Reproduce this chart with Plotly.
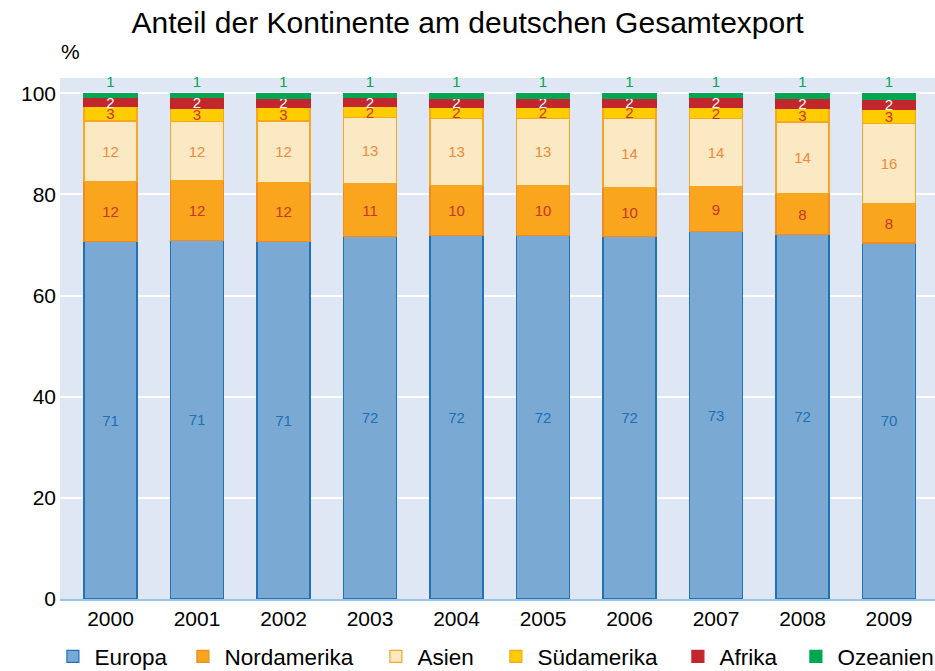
import plotly.graph_objects as go

years = ["2000", "2001", "2002", "2003", "2004", "2005", "2006", "2007", "2008", "2009"]
europa      = [70.7, 70.8, 70.7, 71.6, 71.8, 71.9, 71.6, 72.6, 72.0, 70.4]
nordamerika = [11.8, 11.9, 11.7, 10.6, 10.0,  9.9,  9.7,  8.9,  8.2,  7.8]
asien       = [12.0, 11.7, 12.1, 13.0, 13.2, 13.2, 13.7, 13.5, 14.1, 15.8]
suedamerika = [ 2.8,  2.6,  2.7,  2.1,  2.2,  2.2,  2.2,  2.1,  2.7,  2.8]
afrika      = [ 1.9,  2.2,  1.8,  1.8,  1.8,  1.8,  1.8,  2.1,  2.0,  2.0]
ozeanien    = [ 0.8,  0.8,  1.0,  0.9,  1.0,  1.0,  1.0,  0.8,  1.0,  1.2]

series = [
    ("Europa", europa, "#7aaad4", "#1f72b8", "#1f6fb5"),
    ("Nordamerika", nordamerika, "#f9a51e", "#f08a24", "#c8352b"),
    ("Asien", asien, "#fbe9c3", "#f5a623", "#f0883a"),
    ("Südamerika", suedamerika, "#ffcc00", "#f5a623", "#c8352b"),
    ("Afrika", afrika, "#c1272d", "#c1272d", "#ffffff"),
    ("Ozeanien", ozeanien, "#00a651", "#00a651", "#00a651"),
]

FONT = "Liberation Sans, Arial, sans-serif"
PLOT_L, PLOT_R = 60, 935
legend_px = [51.4, 181.4, 374.4, 494.4, 676.4, 794.4]
legend_x = [(p - PLOT_L) / (PLOT_R - PLOT_L) for p in legend_px]

fig = go.Figure()
legend_layout = {}
for i, (name, vals, fill, line, tcol) in enumerate(series):
    last = i == len(series) - 1
    lname = "legend" if i == 0 else f"legend{i + 1}"
    fig.add_trace(go.Bar(
        x=years, y=vals, name=name,
        marker=dict(color=fill, line=dict(color=line, width=1.2)),
        text=vals, texttemplate="%{y:.0f}",
        textposition="outside" if last else "inside",
        insidetextanchor="middle",
        constraintext="none",
        textangle=0,
        textfont=dict(color=tcol, size=15, family=FONT),
        cliponaxis=False,
        hoverinfo="x+y+name",
        legend=lname,
    ))
    legend_layout[lname] = dict(
        orientation="h", x=legend_x[i], xanchor="left", y=-0.111, yanchor="middle",
        font=dict(size=22.5), itemwidth=33, bgcolor="rgba(0,0,0,0)")

fig.update_layout(
    barmode="stack",
    bargap=0.387,
    width=935, height=671,
    margin=dict(l=PLOT_L, r=935 - PLOT_R, t=78, b=72, autoexpand=False),
    paper_bgcolor="white",
    plot_bgcolor="#e0e7f4",
    font=dict(family=FONT, color="black"),
    title=dict(text="Anteil der Kontinente am deutschen Gesamtexport",
               x=0.5, xref="container", xanchor="center", y=0.967, yanchor="middle",
               font=dict(size=30, color="black")),
    showlegend=True,
    xaxis=dict(tickfont=dict(size=21), showgrid=False, showline=True,
               linecolor="#9cc3e6", linewidth=2, ticks="", ticklen=0,
               range=[-0.584, 9.532]),
    yaxis=dict(range=[0, 103], tickvals=[0, 20, 40, 60, 80, 100],
               tickfont=dict(size=21), gridcolor="white", gridwidth=2,
               zeroline=False, ticks="", ticklabelstandoff=3),
    annotations=[dict(text="%", xref="paper", yref="paper", x=(70 - PLOT_L) / (PLOT_R - PLOT_L),
                      y=1.05, xanchor="center", yanchor="middle", showarrow=False,
                      font=dict(size=21, color="black"))],
    **legend_layout,
)

fig.write_html("out.html", config={"displayModeBar": False},
               post_script="document.body.style.margin='0';document.body.style.overflow='hidden';")
